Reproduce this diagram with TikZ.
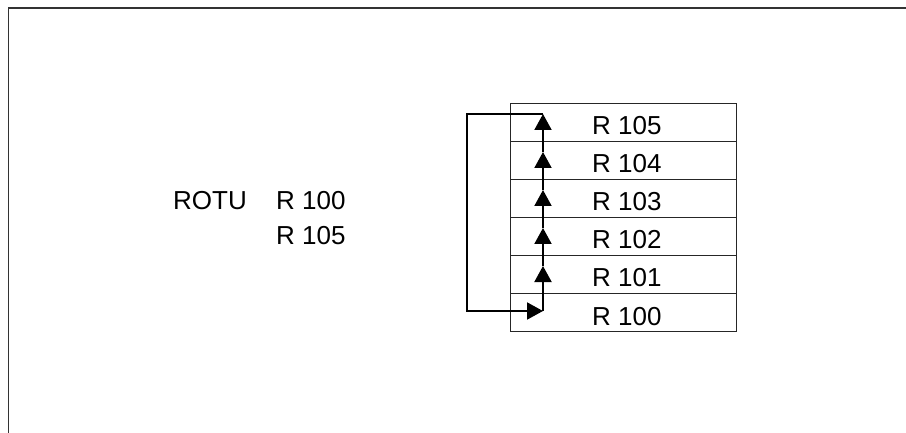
\documentclass[tikz,border=0pt]{standalone}
\usepackage{fontspec}
\setmainfont{Liberation Sans}
\usetikzlibrary{arrows.meta}
\begin{document}
\begin{tikzpicture}[x=1pt,y=-1pt,
  rowbox/.style={draw=black!85,line width=1.2pt,minimum width=226pt,minimum height=38pt,inner sep=0pt,anchor=north west},
  lbl/.style={anchor=base west,inner sep=0pt,font=\fontsize{26}{31}\selectfont},
  flow/.style={line width=2pt,-{Triangle[length=16pt,width=17pt]}},
  plain/.style={line width=2pt},
  frame/.style={line width=1.8pt,draw=black!80}]
\useasboundingbox (0,0) rectangle (906,433);
\coordinate (fa) at (8.5,433);
\coordinate (fb) at (8.5,8);
\coordinate (fc) at (906,8);
\draw[frame] (fa) -- (fb) -- (fc);
% table rows
\node[rowbox] (r5) at (510,103) {};
\node[rowbox] (r4) at (510,141) {};
\node[rowbox] (r3) at (510,179) {};
\node[rowbox] (r2) at (510,217) {};
\node[rowbox] (r1) at (510,255) {};
\node[rowbox] (r0) at (510,293) {};
\node[lbl] (t5) at (592,135) {R 105};
\node[lbl] (t4) at (592,173) {R 104};
\node[lbl] (t3) at (592,211) {R 103};
\node[lbl] (t2) at (592,249) {R 102};
\node[lbl] (t1) at (592,287) {R 101};
\node[lbl] (t0) at (592,325) {R 100};
% left text
\node[lbl] (rotu) at (173,210) {ROTU};
\node[lbl] (ra) at (276,210) {R 100};
\node[lbl] (rb) at (276,244) {R 105};
% arrows
\coordinate (p0) at (543,311);
\coordinate (p1) at (543,266);
\coordinate (p2) at (543,228);
\coordinate (p3) at (543,190);
\coordinate (p4) at (543,152);
\coordinate (p5) at (543,114);
\coordinate (la) at (467,114);
\coordinate (lb) at (467,311);
\draw[flow] (p0) -- (p1);
\draw[flow] (p1) -- (p2);
\draw[flow] (p2) -- (p3);
\draw[flow] (p3) -- (p4);
\draw[flow] (p4) -- (p5);
\draw[plain] (p5) -- (la) -- (lb) -- ++(60,0);
\draw[flow] (lb) -- (p0);
\end{tikzpicture}
\end{document}
